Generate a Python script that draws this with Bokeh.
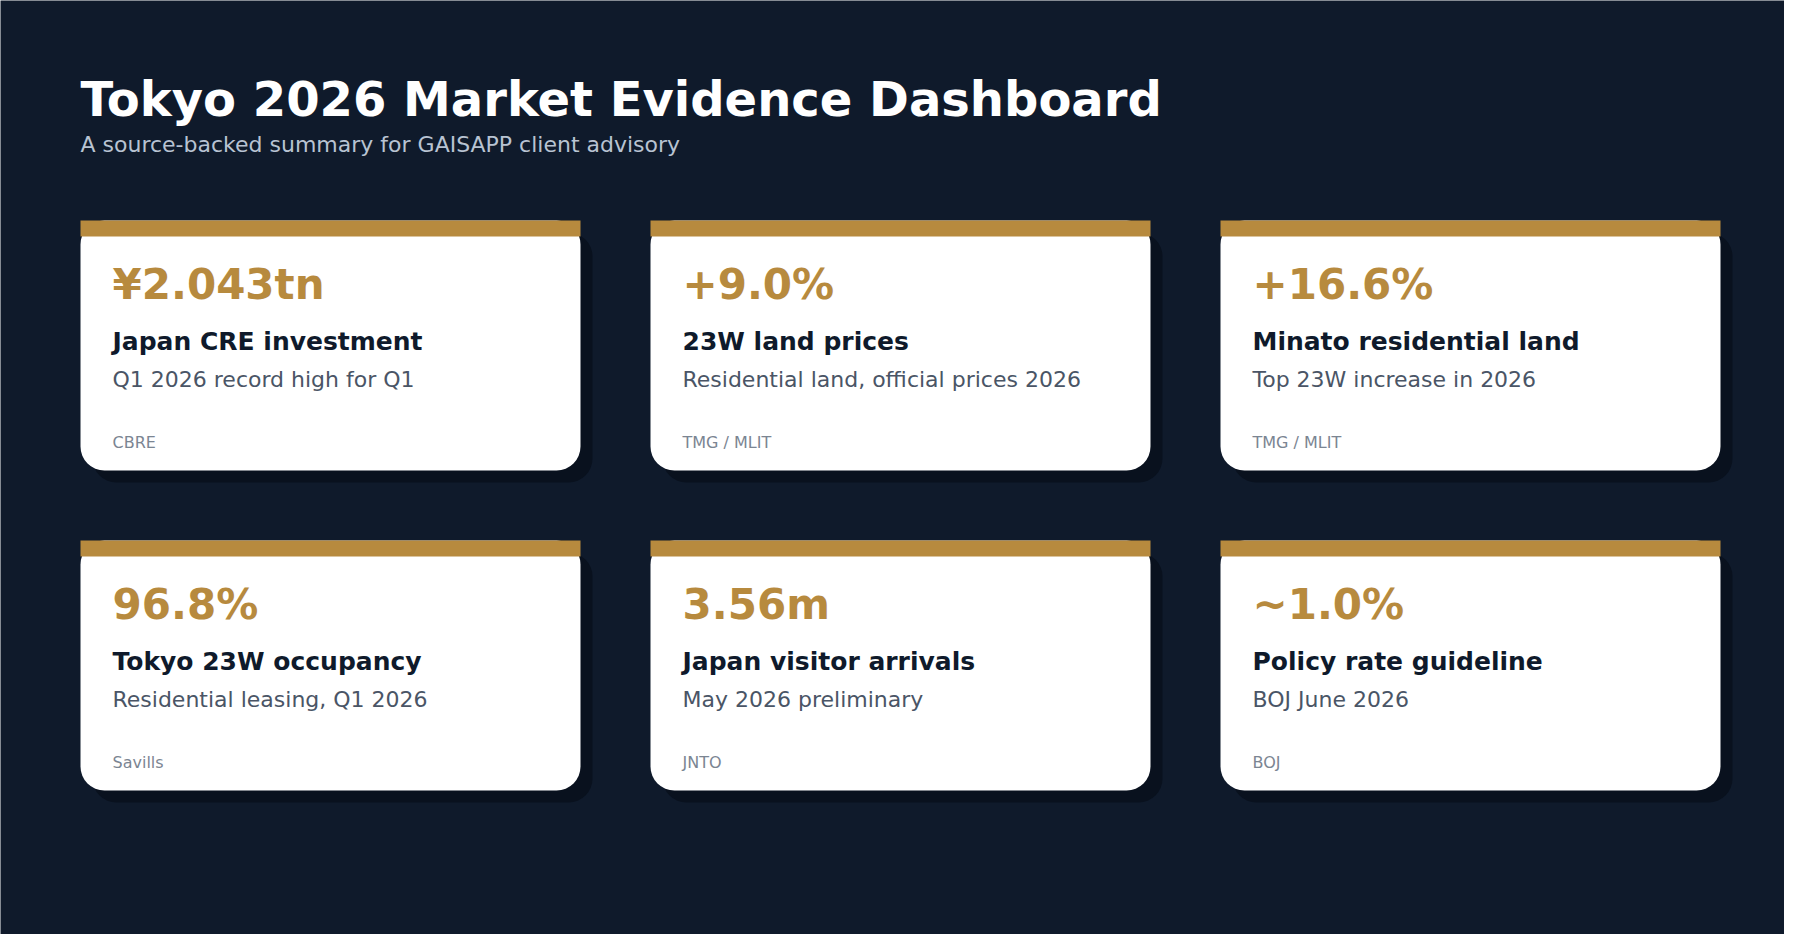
from bokeh.embed import file_html
from bokeh.resources import INLINE
from bokeh.plotting import figure
from bokeh.models import Range1d, ColumnDataSource
from bokeh.core.properties import value

# card data
values = ["¥2.043tn", "+9.0%", "+16.6%", "96.8%", "3.56m", "~1.0%"]
labels = ["Japan CRE investment", "23W land prices", "Minato residential land",
          "Tokyo 23W occupancy", "Japan visitor arrivals", "Policy rate guideline"]
notes = ["Q1 2026 record high for Q1", "Residential land, official prices 2026",
         "Top 23W increase in 2026", "Residential leasing, Q1 2026",
         "May 2026 preliminary", "BOJ June 2026"]
sources = ["CBRE", "TMG / MLIT", "TMG / MLIT", "Savills", "JNTO", "BOJ"]

title = "Tokyo 2026 Market Evidence Dashboard"
subtitle = "A source-backed summary for GAISAPP client advisory"

BG = "#0f1a2b"
GOLD = "#b78a3e"
FONT = value("DejaVu Sans")

W, H = 1784, 934
# one data unit = one pixel, y pointing down
p = figure(width=W, height=H, x_range=Range1d(0, W), y_range=Range1d(H, 0),
           output_backend="svg", toolbar_location=None,
           x_axis_location=None, y_axis_location=None, min_border=0)
p.background_fill_color = BG
p.border_fill_color = BG
p.outline_line_color = None
p.grid.visible = False

card_w, card_h, bar_h = 500, 250, 16
lefts = [80 + (i % 3) * 570 for i in range(len(values))]
tops = [220 + (i // 3) * 320 for i in range(len(values))]

src = ColumnDataSource(dict(
    left=lefts, right=[l + card_w for l in lefts],
    top=tops, bottom=[t + card_h for t in tops],
    sl=[l + 12 for l in lefts], sr=[l + card_w + 12 for l in lefts],
    st=[t + 12 for t in tops], sb=[t + card_h + 12 for t in tops],
    bar_b=[t + bar_h for t in tops],
    tx=[l + 32 for l in lefts],
    y_val=[t + 64 for t in tops], y_lab=[t + 121 for t in tops],
    y_note=[t + 159 for t in tops], y_src=[t + 222 for t in tops],
    val=values, lab=labels, note=notes, source=sources,
))

# shadow, card, gold bar
p.quad(left="sl", right="sr", top="st", bottom="sb", source=src,
       fill_color="#09111e", line_color=None, border_radius=24)
p.quad(left="left", right="right", top="top", bottom="bottom", source=src,
       fill_color="white", line_color=None, border_radius=24)
p.quad(left="left", right="right", top="top", bottom="bar_b", source=src,
       fill_color=GOLD, line_color=None)

p.text(x="tx", y="y_val", text="val", source=src, text_font=FONT, text_font_style="bold",
       text_font_size="42px", text_color=GOLD, text_baseline="alphabetic")
p.text(x="tx", y="y_lab", text="lab", source=src, text_font=FONT, text_font_style="bold",
       text_font_size="25px", text_color="#0f1a2b", text_baseline="alphabetic")
p.text(x="tx", y="y_note", text="note", source=src, text_font=FONT,
       text_font_size="22px", text_color="#4a5566", text_baseline="alphabetic")
p.text(x="tx", y="y_src", text="source", source=src, text_font=FONT,
       text_font_size="16px", text_color="#7b8592", text_baseline="alphabetic")

# header
p.text(x=[80], y=[98], text=[title], text_font=FONT, text_font_style="bold",
       text_font_size="48px", text_color="white", text_baseline="alphabetic")
p.text(x=[80], y=[144], text=[subtitle], text_font=FONT,
       text_font_size="22px", text_color="#b8c3d2", text_baseline="alphabetic")

open("out.html", "w").write(file_html(p, INLINE))
